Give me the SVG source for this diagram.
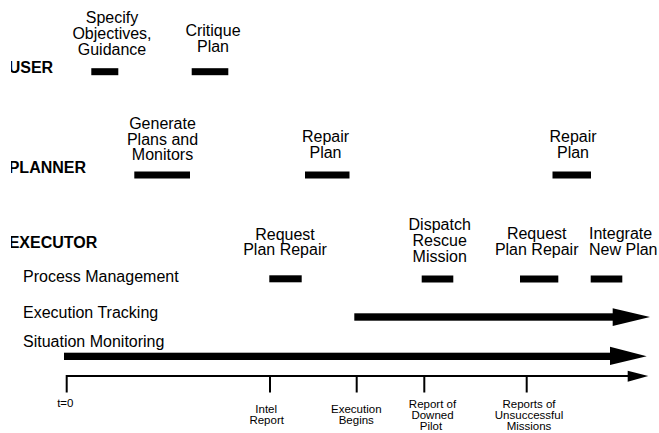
<svg xmlns="http://www.w3.org/2000/svg" width="659" height="433" viewBox="0 0 659 433">
<style>
text{font-family:"Liberation Sans",Arial,Helvetica,sans-serif;fill:#000}
.lbl{font-size:16px;text-anchor:middle}
.row{font-size:16px}
.role{font-size:16px;font-weight:bold}
.tl{font-size:11.5px;text-anchor:middle}
.bar{fill:#000}
.tick{stroke:#000;stroke-width:2;fill:none}
</style>
<defs>
<clipPath id="crop"><rect x="11" y="0" width="648" height="433"/></clipPath>
</defs>
<rect width="659" height="433" fill="#fff"/>
<g id="roles" clip-path="url(#crop)">
<text class="role" x="8.7" y="73.3">USER</text>
<text class="role" x="8.7" y="173.3">PLANNER</text>
<text class="role" x="8.7" y="248.3">EXECUTOR</text>
</g>
<g id="rows">
<text class="row" x="23" y="281.7">Process Management</text>
<text class="row" x="23" y="317.7">Execution Tracking</text>
<text class="row" x="23" y="347.3">Situation Monitoring</text>
</g>
<g id="specify">
<text class="lbl" x="112" y="23.4">Specify</text>
<text class="lbl" x="112" y="39.3">Objectives,</text>
<text class="lbl" x="112" y="55">Guidance</text>
<rect class="bar" x="91.3" y="68.2" width="27" height="7"/>
</g>
<g id="critique">
<text class="lbl" x="213" y="35.6">Critique</text>
<text class="lbl" x="213" y="51.5">Plan</text>
<rect class="bar" x="191.7" y="68.2" width="36.6" height="7"/>
</g>
<g id="generate">
<text class="lbl" x="162.5" y="128.8">Generate</text>
<text class="lbl" x="162.5" y="144.6">Plans and</text>
<text class="lbl" x="162.5" y="160.3">Monitors</text>
<rect class="bar" x="134.3" y="171.5" width="55.7" height="7"/>
</g>
<g id="repair1">
<text class="lbl" x="325.5" y="142.2">Repair</text>
<text class="lbl" x="325.5" y="158">Plan</text>
<rect class="bar" x="305" y="171.5" width="44.5" height="7"/>
</g>
<g id="repair2">
<text class="lbl" x="573" y="142.2">Repair</text>
<text class="lbl" x="573" y="158">Plan</text>
<rect class="bar" x="552.5" y="171.5" width="38.5" height="7"/>
</g>
<g id="request1">
<text class="lbl" x="285" y="239.5">Request</text>
<text class="lbl" x="285" y="255.2">Plan Repair</text>
<rect class="bar" x="269.3" y="275.3" width="32.4" height="7"/>
</g>
<g id="dispatch">
<text class="lbl" x="439.7" y="230">Dispatch</text>
<text class="lbl" x="439.7" y="246">Rescue</text>
<text class="lbl" x="439.7" y="262">Mission</text>
<rect class="bar" x="421.7" y="275.5" width="31.6" height="7"/>
</g>
<g id="request2">
<text class="lbl" x="536.7" y="239.3">Request</text>
<text class="lbl" x="536.7" y="255.1">Plan Repair</text>
<rect class="bar" x="520" y="275.5" width="38.3" height="7"/>
</g>
<g id="integrate">
<text class="row" x="589" y="239.3">Integrate</text>
<text class="row" x="589" y="255.1">New Plan</text>
<rect class="bar" x="590.7" y="275.5" width="31.6" height="7"/>
</g>
<g id="connectors">
<rect class="bar" x="354.3" y="313.3" width="259" height="7.4"/>
<polygon class="bar" points="612.7,308.3 650,317 612.7,326"/>
<rect class="bar" x="64" y="352.7" width="546.5" height="7.3"/>
<polygon class="bar" points="610,346.7 646.7,356.3 610,365"/>
<path class="tick" d="M66.7,376 H629"/>
<polygon class="bar" points="627.7,370.7 648.3,376 627.7,381.7"/>
<path class="tick" d="M66.7,375 V392.5 M270,376 V392.5 M356.7,376 V392.5 M424.3,376 V392.5 M526.7,376 V392.5"/>
</g>
<g id="timeline-labels">
<text class="tl" x="65.3" y="406.7">t=0</text>
<text class="tl" x="266.2" y="412.7">Intel</text>
<text class="tl" x="266.7" y="423.5">Report</text>
<text class="tl" x="356.3" y="413.3">Execution</text>
<text class="tl" x="356.3" y="424.3">Begins</text>
<text class="tl" x="432.5" y="408.3">Report of</text>
<text class="tl" x="432.5" y="419.1">Downed</text>
<text class="tl" x="431" y="429.9">Pilot</text>
<text class="tl" x="529" y="408.3">Reports of</text>
<text class="tl" x="529" y="419.1">Unsuccessful</text>
<text class="tl" x="529" y="429.9">Missions</text>
</g>
</svg>
